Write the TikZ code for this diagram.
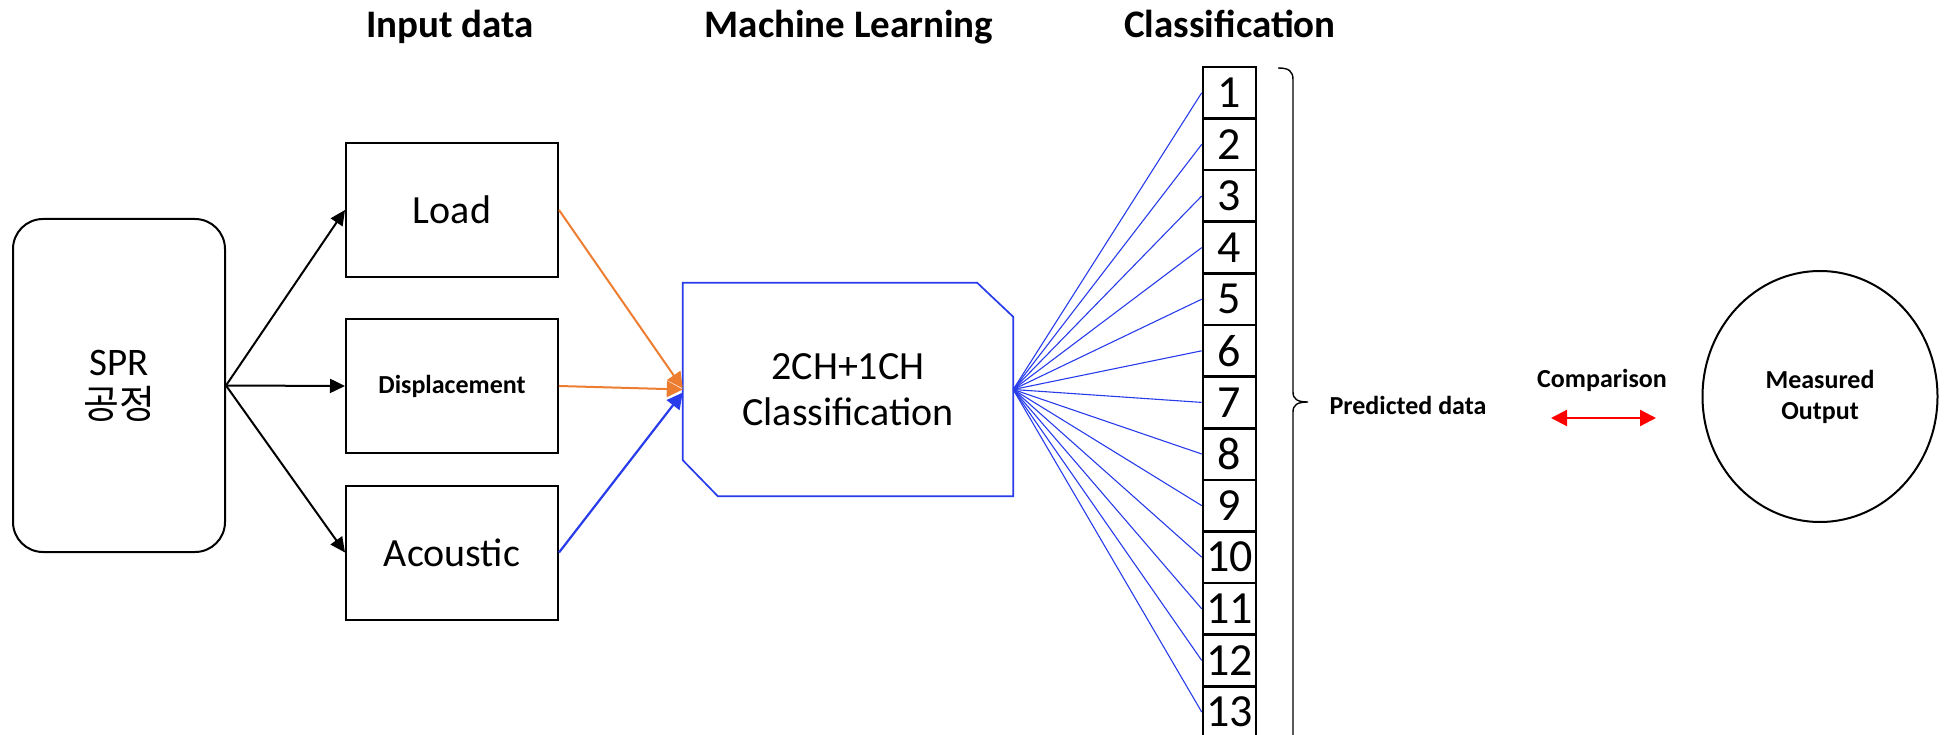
\documentclass[tikz,border=0pt]{standalone}
\usepackage{fontspec}
\setmainfont{Carlito}
\newfontfamily\krfont{Noto Sans CJK KR}
\usetikzlibrary{arrows.meta,calc,shapes.geometric}

\definecolor{lineorange}{RGB}{237,125,49}
\definecolor{lineblue}{RGB}{40,60,235}
\definecolor{cmpred}{RGB}{255,0,0}

\begin{document}
\begin{tikzpicture}[x=1pt,y=-1pt,
  inbox/.style={draw, line width=2pt, minimum width=212pt, minimum height=134pt,
    inner sep=0pt, font=\fontsize{40}{48}\selectfont},
  cell/.style={draw, line width=2.6pt, minimum width=53pt, minimum height=51.6pt,
    inner sep=0pt, font=\fontsize{46}{46}\selectfont},
  head/.style={anchor=base, inner sep=0pt, font=\bfseries\fontsize{39}{44}\selectfont},
  smalllabel/.style={inner sep=0pt, align=center, font=\bfseries\fontsize{26}{31}\selectfont},
  feed/.style={-{Triangle[length=15pt,width=14pt]}, line width=2pt},
  fan/.style={lineblue, line width=1.1pt},
]
\clip (0,0) rectangle (1949,735);

% column headings
\node[head] (hin)  at (450,38)  {Input data};
\node[head] (hml)  at (849,38)  {Machine Learning};
\node[head] (hcls) at (1230,38) {Classification};

% process source
\node[draw, line width=2pt, rounded corners=30pt, minimum width=212pt, minimum height=333pt,
  inner sep=0pt, align=center, font=\fontsize{39}{43}\selectfont]
  (spr) at (119,385.5) {SPR\\{\krfont 공정}};

% sensor inputs
\node[inbox] (load) at (452,210) {Load};
\node[inbox, font=\bfseries\fontsize{26}{30}\selectfont] (disp) at (452,386) {Displacement};
\node[inbox] (acou) at (452,552.5) {Acoustic};

\draw[feed] (spr.east) -- (load.west);
\draw[feed] (spr.east) -- (disp.west);
\draw[feed] (spr.east) -- (acou.west);

% classifier block with two cut corners
\node[minimum width=330pt, minimum height=213pt, inner sep=0pt, align=center,
  font=\fontsize{40}{46}\selectfont] (ml) at (848,389.5) {2CH+1CH\\Classification};
\draw[lineblue, line width=1.7pt]
  (ml.north west) -- ($(ml.north east)+(-36,0)$) -- ($(ml.north east)+(0,34)$)
  -- (ml.south east) -- ($(ml.south west)+(35,0)$) -- ($(ml.south west)+(0,-36)$) -- cycle;

\draw[lineorange, line width=2pt, -{Triangle[length=16pt,width=16pt]}]
  (load.east) -- ($(ml.west)+(0,-1)$);
\draw[lineorange, line width=2pt, -{Triangle[length=16pt,width=16pt]}]
  (disp.east) -- ($(ml.west)+(0,0)$);
\draw[lineblue, line width=2.2pt, -{Triangle[length=16pt,width=16pt]}]
  (acou.east) -- ($(ml.west)+(0,3)$);

% output classes
\foreach \k in {1,...,13}
  \node[cell] (c\k) at (1229.5,{67+51.6*(\k-0.5)}) {\k};
\foreach \k in {1,...,13}
  \draw[fan] (ml.east) -- (c\k.west);

% brace grouping the classes
\draw[line width=1.4pt]
  (1278,68) .. controls (1289,68) and (1293,71) .. (1293,80)
  -- (1293,392) .. controls (1293,399) and (1297,402) .. (1308,402)
  .. controls (1297,402) and (1293,405) .. (1293,412) -- (1293,760);

\node[smalllabel] (pred) at (1408,405) {Predicted data};
\node[smalllabel] (cmp) at (1602,380) {Comparison};
\coordinate (cmpL) at (1551,418);
\coordinate (cmpR) at (1656,418);
\draw[cmpred, line width=2.2pt, {Triangle[length=16pt,width=16pt]}-{Triangle[length=16pt,width=16pt]}]
  (cmpL) -- (cmpR);

\node[draw, ellipse, line width=2pt, minimum width=235pt, minimum height=251pt,
  inner sep=0pt, align=center, font=\bfseries\fontsize{26}{31}\selectfont]
  (meas) at (1820,396.5) {Measured\\Output};
\end{tikzpicture}
\end{document}
